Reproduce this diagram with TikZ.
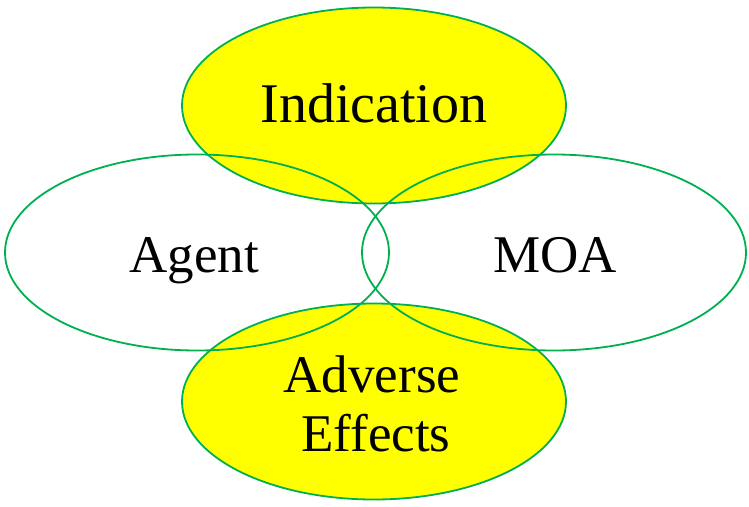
\documentclass[tikz,border=0pt]{standalone}
\usepackage{fontspec}
\setmainfont{Liberation Serif}
\usetikzlibrary{shapes.geometric}
\definecolor{vgreen}{RGB}{0,176,80}
\definecolor{vyellow}{RGB}{255,255,0}
\begin{document}
\begin{tikzpicture}[x=1pt,y=-1pt,
  ell/.style={ellipse,draw=vgreen,line width=1.8pt,minimum width=384pt,minimum height=196pt,inner sep=0pt},
  fillell/.style={ellipse,fill=vyellow,minimum width=384pt,minimum height=196pt,inner sep=0pt},
  lbl/.style={anchor=base,inner sep=0pt,font=\fontsize{53}{59}\selectfont,align=center}]
\useasboundingbox (0,0) rectangle (749,506);
\fill[white] (0,0) rectangle (749,506);
\node[fillell] (indf) at (374,105.5) {};
\node[fillell] (advf) at (374,401.5) {};
\node[ell] (ind) at (374,105.5) {};
\node[ell] (agent) at (197,252.5) {};
\node[ell] (moa) at (554,252.5) {};
\node[ell] (adv) at (374,401.5) {};
\node[lbl,font=\fontsize{56}{59}\selectfont] (tind) at (374,122) {Indication};
\node[lbl] (tagent) at (194,272) {Agent};
\node[lbl] (tmoa) at (555,272) {MOA};
\node[lbl] (tadv) at (372,392) {Adverse};
\node[lbl] (teff) at (376,451) {Effects};
\end{tikzpicture}
\end{document}
